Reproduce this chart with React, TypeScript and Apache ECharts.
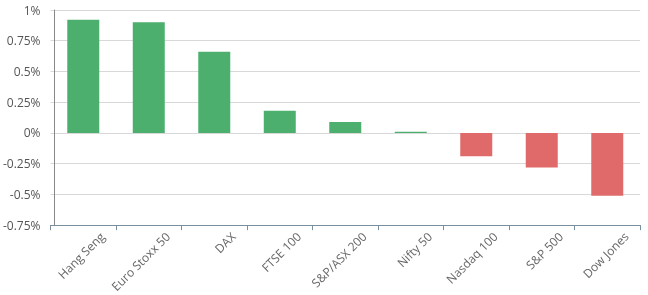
import React, { useEffect, useRef } from "react";
import * as echarts from "echarts";

const categories = ["Hang Seng", "Euro Stoxx 50", "DAX", "FTSE 100", "S&P/ASX 200", "Nifty 50", "Nasdaq 100", "S&P 500", "Dow Jones"];
const values = [0.92, 0.9, 0.66, 0.18, 0.09, 0.01, -0.19, -0.28, -0.51];
const GREEN = "#4caf6e";
const RED = "#e06a6a";

export default function App() {
  const ref = useRef<HTMLDivElement>(null);
  useEffect(() => {
    if (!ref.current) return;
    const chart = echarts.init(ref.current, undefined, { renderer: "svg" });
    chart.setOption({
      animation: false,
      textStyle: { fontFamily: "Open Sans" },
      grid: { left: 49, right: 8, top: 10, bottom: 67 },
      xAxis: {
        type: "category",
        data: categories,
        position: "bottom",
        axisLine: { onZero: false, lineStyle: { color: "#7a8f9d", width: 1 } },
        axisTick: { show: true, length: 5, alignWithLabel: false, lineStyle: { color: "#7a8f9d" } },
        axisLabel: {
          rotate: 45,
          color: "#666",
          fontSize: 12,
          margin: 0,
          interval: 0,
          align: "right",
          verticalAlign: "top",
          padding: [14, -7, 0, 0],
        },
        splitLine: { show: false },
      },
      yAxis: {
        type: "value",
        min: -0.75,
        max: 1,
        interval: 0.25,
        offset: -4,
        axisLine: { show: true, lineStyle: { color: "#888", width: 1 } },
        axisTick: { show: false },
        axisLabel: { color: "#555", fontSize: 12, margin: 14, formatter: (v: number) => v + "%" },
        splitLine: { lineStyle: { color: "#d9d9d9" } },
      },
      series: [
        {
          type: "bar",
          barWidth: 32,
          data: values.map((v) => ({ value: v, itemStyle: { color: v >= 0 ? GREEN : RED } })),
        },
      ],
    });
    return () => chart.dispose();
  }, []);
  return <div ref={ref} style={{ position: "fixed", left: 0, top: 0, width: 648, height: 295 }} />;
}
